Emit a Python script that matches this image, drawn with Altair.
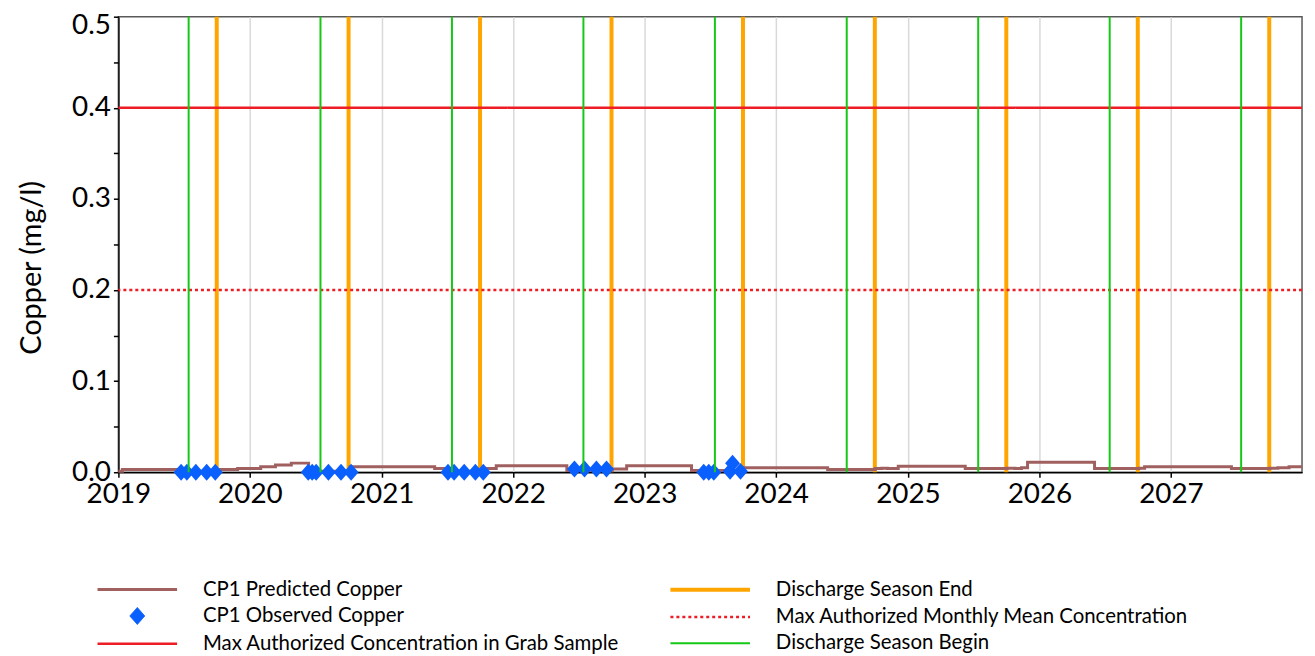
import altair as alt
import pandas as pd

# ---------------- data ----------------
pred_dates = ["2019-01-01", "2019-01-12", "2019-06-20", "2019-10-04", "2019-11-28",
              "2020-01-31", "2020-03-12", "2020-04-25", "2020-06-12", "2020-10-05",
              "2021-05-28", "2021-07-01", "2021-10-08", "2021-11-15", "2022-05-30",
              "2022-10-03", "2022-11-12", "2023-05-11", "2023-10-03", "2024-05-23",
              "2024-10-02", "2024-10-20", "2024-11-05", "2024-12-05", "2025-06-09",
              "2025-10-03", "2025-10-25", "2025-11-12", "2025-11-29", "2026-06-03",
              "2026-10-05", "2026-10-20", "2027-06-18", "2027-10-03", "2027-10-25",
              "2027-11-25", "2027-12-31"]
pred_values = [0.001, 0.003, 0.001, 0.003, 0.004,
               0.006, 0.008, 0.010, 0.001, 0.006,
               0.004, 0.001, 0.004, 0.007, 0.002,
               0.0035, 0.007, 0.002, 0.005, 0.003,
               0.004, 0.0045, 0.004, 0.0065, 0.004,
               0.0045, 0.004, 0.005, 0.011, 0.004,
               0.0045, 0.006, 0.004, 0.0045, 0.005,
               0.006, 0.006]

obs_dates = ["2019-06-24", "2019-07-10", "2019-08-04", "2019-09-03", "2019-09-27",
             "2020-06-11", "2020-06-22", "2020-07-03", "2020-08-06", "2020-09-10", "2020-10-08",
             "2021-07-04", "2021-07-21", "2021-08-18", "2021-09-18", "2021-10-10",
             "2022-06-20", "2022-07-18", "2022-08-20", "2022-09-17",
             "2023-06-14", "2023-06-28", "2023-07-12", "2023-08-26", "2023-09-02", "2023-09-24"]
obs_values = [0.0, 0.0, 0.0, 0.0, 0.0,
              0.0, 0.0, 0.0, 0.0, 0.0, 0.0,
              0.0, 0.0, 0.0, 0.0, 0.0,
              0.0035, 0.0035, 0.0035, 0.0035,
              0.0, 0.0, 0.0, 0.001, 0.010, 0.001]

season_begin = ["2019-07-15", "2020-07-15", "2021-07-15", "2022-07-15", "2023-07-15",
                "2024-07-15", "2025-07-15", "2026-07-15", "2027-07-15"]
season_end = ["2019-10-01", "2020-10-01", "2021-10-01", "2022-10-01", "2023-10-01",
              "2024-10-01", "2025-10-01", "2026-10-01", "2027-10-01"]
grab_limit = [0.4]
monthly_limit = [0.2]

y_ticks = [0.0, 0.05, 0.1, 0.15, 0.2, 0.25, 0.3, 0.35, 0.4, 0.45, 0.5]

# legend order (filled column by column, 2 columns x 3 rows)
names = ["CP1 Predicted Copper", "CP1 Observed  Copper",
         "Max Authorized Concentration in Grab Sample", "Discharge Season End",
         "Max Authorized Monthly Mean Concentration", "Discharge Season Begin"]
colors = ["#a0605f", "#0a5fff", "#ee1c25", "#ffa500", "#ee1c25", "#16c816"]
LINE = "M-4,0L4,0"
DIAMOND = "M-0.75,0L0,-0.85L0.75,0L0,0.85Z"
shapes = [LINE, DIAMOND, LINE, LINE, LINE, LINE]
dashes = [[1, 0], [1, 0], [1, 0], [1, 0], [3, 3], [1, 0]]
widths = [3, 1, 2.5, 4, 2.5, 2]

FONT = "Lato"

pred_df = pd.DataFrame({"date": pred_dates, "value": pred_values, "series": names[0]})
obs_df = pd.DataFrame({"date": obs_dates, "value": obs_values, "series": names[1]})
begin_df = pd.DataFrame({"date": season_begin, "series": names[5]})
end_df = pd.DataFrame({"date": season_end, "series": names[3]})
grab_df = pd.DataFrame({"value": grab_limit, "series": names[2]})
monthly_df = pd.DataFrame({"value": monthly_limit, "series": names[4]})

leg = alt.Legend(title=None)
color = alt.Color("series:N", scale=alt.Scale(domain=names, range=colors), legend=leg)
dash = alt.StrokeDash("series:N", scale=alt.Scale(domain=names, range=dashes), legend=leg)
width = alt.StrokeWidth("series:N", scale=alt.Scale(type="ordinal", domain=names, range=widths), legend=leg)
shape = alt.Shape("series:N", scale=alt.Scale(domain=names, range=shapes), legend=leg)

x_enc = alt.X("date:T",
              scale=alt.Scale(domain=[alt.DateTime(year=2019, month=1, date=1),
                                      alt.DateTime(year=2027, month=12, date=31)]),
              axis=alt.Axis(title=None, format="%Y", tickCount={"interval": "year", "step": 1},
                            labelFontSize=28, labelFont=FONT, labelColor="black",
                            labelFlush=False, labelOverlap=False, labelPadding=3,
                            grid=True, gridColor="#d9d9d9", gridWidth=1.5,
                            tickSize=5, tickColor="black", tickWidth=1.5,
                            domainColor="black", domainWidth=1.5))
y_enc = alt.Y("value:Q",
              scale=alt.Scale(domain=[0, 0.5], nice=False),
              axis=alt.Axis(title="Copper (mg/l)", values=y_ticks,
                            labelExpr="round(datum.value*100) % 10 == 0 ? format(datum.value, '.1f') : ''",
                            labelOffset={"condition": {"test": "datum.value > 0.49", "value": 9}, "value": 0},
                            labelFontSize=28, labelFont=FONT, labelColor="black",
                            labelFlush=False, labelOverlap=False, labelPadding=3,
                            tickSize=5, tickColor="black", tickWidth=1.5,
                            domainColor="black", domainWidth=1.5, grid=False,
                            titleFontSize=29, titleFont=FONT, titleFontWeight="normal",
                            titleColor="black", titleAngle=270, titleX=-87, titleY=252,
                            titleAlign="center", titleBaseline="middle"))

end_layer = alt.Chart(end_df).mark_rule().encode(x=x_enc, color=color, strokeDash=dash, strokeWidth=width)
begin_layer = alt.Chart(begin_df).mark_rule().encode(x=x_enc, color=color, strokeDash=dash, strokeWidth=width)
grab_layer = alt.Chart(grab_df).mark_rule().encode(y=y_enc, color=color, strokeDash=dash, strokeWidth=width)
monthly_layer = alt.Chart(monthly_df).mark_rule().encode(y=y_enc, color=color, strokeDash=dash, strokeWidth=width)
pred_layer = alt.Chart(pred_df).mark_line(interpolate="step-after").encode(
    x=x_enc, y=y_enc, color=color, strokeDash=dash, strokeWidth=width)
obs_layer = alt.Chart(obs_df).mark_point(filled=True, size=400, opacity=1).encode(
    x=x_enc, y=y_enc, color=color, shape=shape)

chart = alt.layer(end_layer, monthly_layer, grab_layer, pred_layer, obs_layer, begin_layer).properties(
    width=1190, height=458,
    padding={"left": 111, "top": 7, "right": 5, "bottom": 182},
    autosize=alt.AutoSizeParams(type="none"),
).configure_view(
    stroke="#595959", strokeWidth=1.5
).configure_legend(
    orient="none", legendX=-22, legendY=564, columns=2, columnPadding=43, rowPadding=5,
    labelFont=FONT, labelFontSize=20.5, labelColor="black", labelLimit=0,
    symbolOffset=29, labelOffset=54,
    symbolSize=400, symbolFillColor="transparent", padding=0
)

chart.save("out.html", embed_options={"renderer": "svg", "actions": False})
